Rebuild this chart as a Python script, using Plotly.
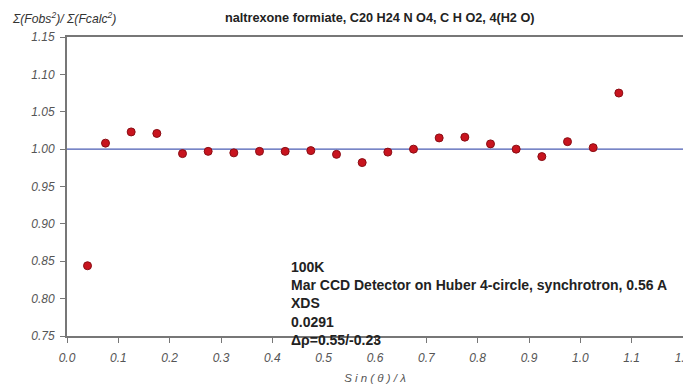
import plotly.graph_objects as go

sin_theta_lambda = [0.040, 0.075, 0.125, 0.175, 0.225, 0.275, 0.325, 0.375, 0.425, 0.475,
                    0.525, 0.575, 0.625, 0.675, 0.725, 0.775, 0.825, 0.875, 0.925, 0.975,
                    1.025, 1.075]
ratio = [0.844, 1.008, 1.023, 1.021, 0.994, 0.997, 0.995, 0.997, 0.997, 0.998,
         0.993, 0.982, 0.996, 1.000, 1.015, 1.016, 1.007, 1.000, 0.990, 1.010,
         1.002, 1.075]
x_ticks = [0.0, 0.1, 0.2, 0.3, 0.4, 0.5, 0.6, 0.7, 0.8, 0.9, 1.0, 1.1, 1.2]
y_ticks = [0.75, 0.80, 0.85, 0.90, 0.95, 1.00, 1.05, 1.10, 1.15]
info_lines = ["100K", "Mar CCD Detector on Huber 4-circle, synchrotron, 0.56 A",
              "XDS", "0.0291", "\u0394\u03c1=0.55/-0.23"]

fig = go.Figure()
fig.add_trace(go.Scatter(
    x=sin_theta_lambda, y=ratio, mode="markers",
    marker=dict(size=8, color="#c8141e", line=dict(color="#8a0d14", width=1)),
    showlegend=False, cliponaxis=False))

fig.add_shape(type="line", xref="paper", x0=0, x1=1, yref="y", y0=1.0, y1=1.0,
              line=dict(color="#4b5cb3", width=1.3), layer="below")

tickfont = dict(family="Liberation Sans, Arial", size=12, color="#555555")
fig.update_xaxes(range=[0, 1.2], tickvals=x_ticks, ticktext=[f"<i>{v:.1f}</i>" for v in x_ticks],
                 ticks="outside", ticklen=5, tickcolor="#777777", tickfont=tickfont,
                 ticklabelstandoff=5, ticklabeloverflow="allow",
                 showline=True, linecolor="#777777", linewidth=2, mirror=True,
                 showgrid=False, zeroline=False, automargin=False,
                 title=dict(text="<i>S i n ( \u03b8 ) / \u03bb</i>",
                            font=dict(family="Liberation Sans, Arial", size=11.5, color="#555555"),
                            standoff=10))
fig.update_yaxes(range=[0.75, 1.15], tickvals=y_ticks, ticktext=[f"<i>{v:.2f}</i>" for v in y_ticks],
                 ticks="outside", ticklen=5, tickcolor="#777777", tickfont=tickfont,
                 ticklabelstandoff=3,
                 showline=True, linecolor="#777777", linewidth=2, mirror=True,
                 showgrid=False, zeroline=False, automargin=False)

fig.add_annotation(text="<i>\u03a3(Fobs<sup>2</sup>)/ \u03a3(Fcalc<sup>2</sup>)</i>",
                   xref="paper", yref="paper", x=-0.092, y=1.0, yshift=9,
                   xanchor="left", yanchor="bottom", showarrow=False,
                   font=dict(family="Liberation Sans, Arial", size=12.2, color="#333333"))
fig.add_annotation(text="<b>naltrexone formiate, C20 H24 N O4, C H O2, 4(H2 O)</b>",
                   xref="paper", yref="paper", x=0.508, y=1.0, yshift=10,
                   xanchor="center", yanchor="bottom", showarrow=False,
                   font=dict(family="Liberation Sans, Arial", size=12.7, color="#222222"))
fig.add_annotation(text="<b>" + "<br>".join(info_lines) + "</b>",
                   xref="paper", yref="paper", x=0.36, y=0.265,
                   xanchor="left", yanchor="top", align="left", showarrow=False,
                   font=dict(family="Liberation Sans, Arial", size=14, color="#222222"))

fig.update_layout(width=691, height=380, margin=dict(l=59, r=16, t=29, b=52, autoexpand=False),
                  paper_bgcolor="white", plot_bgcolor="white")
fig.write_html("out.html")
